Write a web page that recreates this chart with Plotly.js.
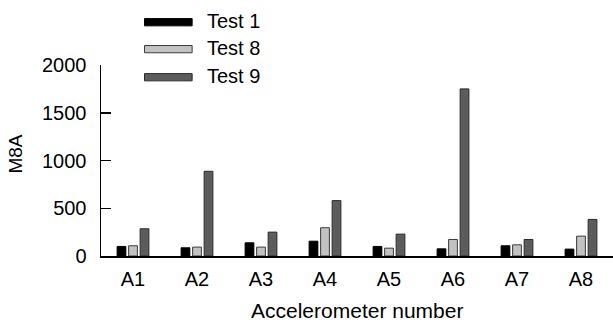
<!DOCTYPE html>
<html>
<head>
<meta charset="utf-8">
<script src="https://cdn.plot.ly/plotly-3.0.1.min.js"></script>
<style>html,body{margin:0;padding:0;background:#fff;}#chart{width:613px;height:322px;}</style>
</head>
<body>
<div id="chart"></div>
<script>
const categories = ["A1","A2","A3","A4","A5","A6","A7","A8"];
const test1 = [100, 86, 138, 155, 100, 75, 107, 72];
const test8 = [107, 93, 93, 296, 82, 173, 117, 208];
const test9 = [285, 887, 250, 580, 229, 1750, 173, 383];
const seriesNames = ["Test 1", "Test 8", "Test 9"];
const fills = ["#000000", "#c2c2c2", "#5c5c5c"];
const outlines = ["#000000", "#3a3a3a", "#2a2a2a"];
const yTicks = [0, 500, 1000, 1500, 2000];

const font = "Liberation Sans, Arial, sans-serif";
const allSeries = [test1, test8, test9];
const traces = allSeries.map((vals, i) => ({
  type: "bar",
  x: categories,
  y: vals,
  name: seriesNames[i],
  marker: {color: fills[i], line: {color: outlines[i], width: 1}},
  showlegend: false,
  hoverinfo: "skip"
}));

// custom legend (wide rectangles)
const legendY = [1.224, 1.083, 0.936];
const shapes = [];
const annotations = [];
seriesNames.forEach((n, i) => {
  shapes.push({type: "rect", xref: "paper", yref: "paper",
    x0: 0.085, x1: 0.178, y0: legendY[i] - 0.019, y1: legendY[i] + 0.019,
    fillcolor: fills[i], line: {color: outlines[i], width: 1}});
  annotations.push({xref: "paper", yref: "paper", x: 0.204, y: legendY[i] + 0.008,
    xanchor: "left", yanchor: "middle", text: n, showarrow: false,
    font: {family: font, size: 20, color: "#000"}});
});
annotations.push({xref: "paper", yref: "paper", x: -0.166, y: 0.531, textangle: -90,
  xanchor: "center", yanchor: "middle", text: "M8A", showarrow: false,
  font: {family: font, size: 19, color: "#000"}});
annotations.push({xref: "paper", yref: "paper", x: 0.5, y: -0.285,
  xanchor: "center", yanchor: "middle", text: "Accelerometer number", showarrow: false,
  font: {family: font, size: 21, color: "#000"}});

const layout = {
  width: 613, height: 322,
  margin: {l: 101, r: 0, t: 65, b: 66, pad: 0},
  paper_bgcolor: "#fff", plot_bgcolor: "#fff",
  font: {family: font, size: 20, color: "#000"},
  barmode: "group", bargap: 0.46, bargroupgap: 0.24,
  xaxis: {
    type: "category", range: [-0.5, 7.5], showgrid: false, zeroline: false,
    showline: true, linecolor: "#000", linewidth: 2, ticks: "",
    tickfont: {family: font, size: 20}, ticklabelstandoff: 4
  },
  yaxis: {
    range: [0, 2000], tickvals: yTicks, showgrid: false, zeroline: false,
    showline: true, linecolor: "#000", linewidth: 1.5,
    ticks: "inside", ticklen: 10, tickwidth: 1.5, tickcolor: "#000",
    tickfont: {family: font, size: 20}, ticklabelstandoff: 9
  },
  shapes: shapes,
  annotations: annotations
};

Plotly.newPlot("chart", traces, layout, {staticPlot: true, displayModeBar: false});
</script>
</body>
</html>
